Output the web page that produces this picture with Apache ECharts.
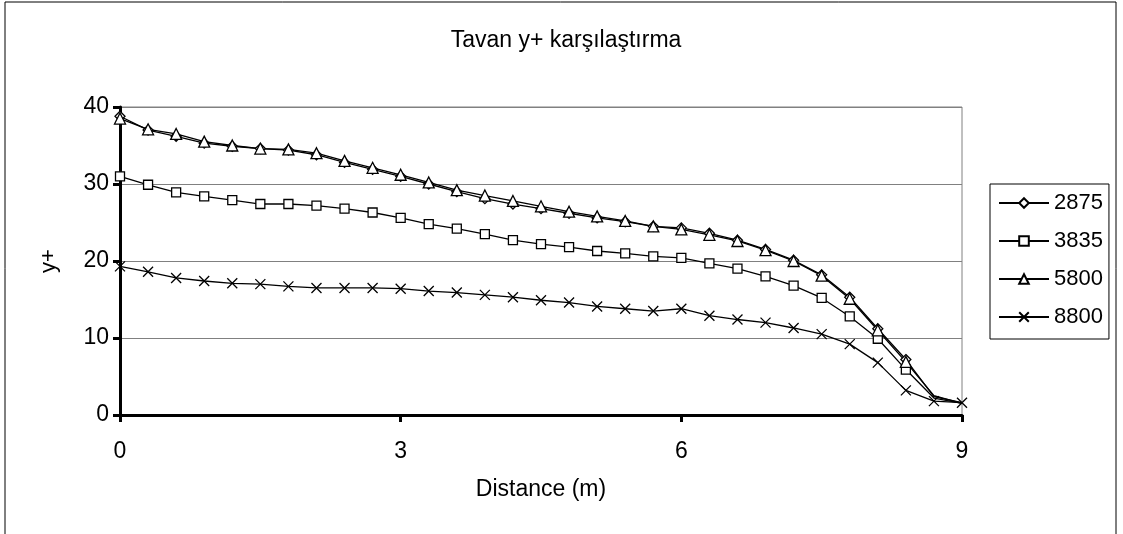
<!DOCTYPE html>
<html>
<head>
<meta charset="utf-8">
<script src="https://cdn.jsdelivr.net/npm/echarts@6/dist/echarts.min.js"></script>
<style>
  html, body { margin: 0; padding: 0; background: #fff; }
  #chart { width: 1123px; height: 534px; }
</style>
</head>
<body>
<div id="chart"></div>
<script>
// mesafe (m), 0.3 m aralikla
var distance = [0, 0.3, 0.6, 0.9, 1.2, 1.5, 1.8, 2.1, 2.4, 2.7, 3.0, 3.3, 3.6, 3.9, 4.2, 4.5,
  4.8, 5.1, 5.4, 5.7, 6.0, 6.3, 6.6, 6.9, 7.2, 7.5, 7.8, 8.1, 8.4, 8.7, 9.0];

var y2875 = [38.8, 37.0, 36.2, 35.3, 34.9, 34.6, 34.4, 33.8, 32.8, 31.9, 31.0, 30.0, 29.0, 28.1, 27.4, 26.8,
  26.2, 25.6, 25.1, 24.5, 24.3, 23.6, 22.7, 21.5, 20.1, 18.2, 15.3, 11.2, 7.2, 2.4, 1.6];
var y3835 = [31.0, 29.9, 28.9, 28.4, 27.9, 27.4, 27.4, 27.2, 26.8, 26.3, 25.6, 24.8, 24.2, 23.5, 22.7, 22.2,
  21.8, 21.3, 21.0, 20.6, 20.4, 19.7, 19.0, 18.0, 16.8, 15.2, 12.8, 9.9, 5.9, 2.2, 1.5];
var y5800 = [38.5, 37.1, 36.5, 35.5, 35.0, 34.6, 34.5, 34.0, 33.0, 32.1, 31.2, 30.2, 29.2, 28.5, 27.8, 27.1,
  26.4, 25.8, 25.2, 24.5, 24.1, 23.4, 22.6, 21.4, 20.0, 18.1, 15.1, 11.0, 6.9, 2.5, 1.5];
var y8800 = [19.3, 18.6, 17.8, 17.4, 17.1, 17.0, 16.7, 16.5, 16.5, 16.5, 16.4, 16.1, 15.9, 15.6, 15.3, 14.9,
  14.6, 14.1, 13.8, 13.5, 13.8, 12.9, 12.4, 12.0, 11.3, 10.5, 9.2, 6.8, 3.2, 1.8, 1.6];

var seriesNames = ['2875', '3835', '5800', '8800'];

var FONT = '"Liberation Sans", Arial, sans-serif';
var X_PATH = 'path://M0,0L10,10M10,0L0,10';

/**noktalari olustur, son iki noktada isaret yok*/
function buildData(vals, hideTail) {
  return vals.map(function(v, i) {
    var item = { value: [distance[i], v] };
    if (hideTail && i >= vals.length - 2) item.symbol = 'none';
    return item;
  });
}

function makeSeries(name, vals, symbol, size, hideTail) {
  return {
    name: name,
    type: 'line',
    data: buildData(vals, hideTail),
    symbol: symbol,
    symbolSize: size,
    showAllSymbol: true,
    animation: false,
    lineStyle: { color: '#000', width: 1.3 },
    itemStyle: { color: '#fff', borderColor: '#000', borderWidth: 1.3 }
  };
}

var chart = echarts.init(document.getElementById('chart'));
chart.setOption({
  backgroundColor: '#fff',
  animation: false,
  textStyle: { fontFamily: FONT },
  title: {
    text: 'Tavan y+ karşılaştırma',
    left: 561,
    top: 24,
    textAlign: 'center',
    textStyle: { fontFamily: FONT, fontSize: 23, fontWeight: 'normal', color: '#000' }
  },
  graphic: [{
    type: 'rect',
    shape: { x: 5, y: 2, width: 1111, height: 560 },
    style: { fill: 'none', stroke: '#000', lineWidth: 1 },
    z: -1
  }],
  legend: {
    orient: 'vertical',
    left: 990,
    top: 184,
    padding: [8, 6, 11, 8],
    itemGap: 16,
    itemWidth: 50,
    itemHeight: 12,
    borderColor: '#000',
    borderWidth: 1,
    data: seriesNames,
    textStyle: { fontFamily: FONT, fontSize: 22, lineHeight: 22, color: '#000' }
  },
  grid: {
    left: 120, right: 161, top: 107, bottom: 119,
    show: true, borderColor: '#808080', borderWidth: 1, backgroundColor: 'transparent'
  },
  xAxis: {
    type: 'value',
    min: 0, max: 9, interval: 3,
    name: 'Distance (m)',
    nameLocation: 'middle',
    nameGap: 63,
    nameTextStyle: { fontFamily: FONT, fontSize: 23, color: '#000' },
    axisLine: { lineStyle: { color: '#000', width: 3 } },
    axisTick: { show: true, length: 7, lineStyle: { color: '#000', width: 3 } },
    axisLabel: { fontFamily: FONT, fontSize: 23, color: '#000', margin: 25 },
    splitLine: { show: false }
  },
  yAxis: {
    type: 'value',
    min: 0, max: 40, interval: 10,
    name: 'y+',
    nameLocation: 'middle',
    nameRotate: 90,
    nameGap: 60,
    nameTextStyle: { fontFamily: FONT, fontSize: 22, color: '#000' },
    axisLine: { show: true, lineStyle: { color: '#000', width: 3 } },
    axisTick: { show: true, length: 7, lineStyle: { color: '#000', width: 3 } },
    axisLabel: { fontFamily: FONT, fontSize: 23, color: '#000', margin: 11 },
    splitLine: { show: true, lineStyle: { color: '#808080', width: 1 } }
  },
  series: [
    makeSeries('2875', y2875, 'diamond', 10, true),
    makeSeries('3835', y3835, 'rect', 9, true),
    makeSeries('5800', y5800, 'triangle', 11, true),
    makeSeries('8800', y8800, X_PATH, 10, false)
  ]
});
</script>
</body>
</html>
